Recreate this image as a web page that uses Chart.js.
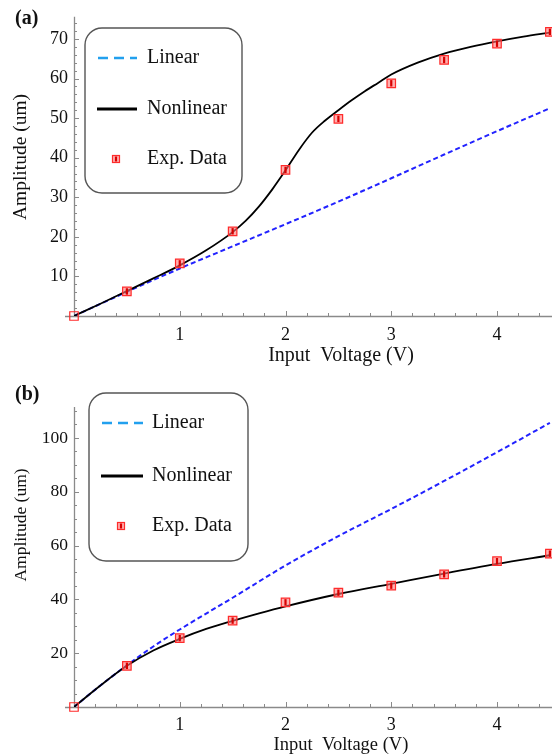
<!DOCTYPE html>
<html><head><meta charset="utf-8">
<script src="https://cdn.jsdelivr.net/npm/chart.js@4.4.1/dist/chart.umd.min.js"></script>
<style>
html,body{margin:0;padding:0;background:#fff;}
#wrap{position:relative;width:552px;height:755px;overflow:hidden;}
canvas{position:absolute;left:0;}
</style></head><body>
<div id="wrap">
<canvas id="ca" width="552" height="370" style="top:0"></canvas>
<canvas id="cb" width="552" height="385" style="top:370px"></canvas>
</div>
<script>
// ---------- data ----------
const expVolts = [0, 0.5, 1, 1.5, 2, 2.5, 3, 3.5, 4, 4.5];
const expAmpA = [0, 6.2, 13.3, 21.4, 36.9, 49.8, 58.8, 64.7, 68.8, 71.8];
const expAmpB = [0, 15.3, 25.6, 32.1, 38.9, 42.5, 45.1, 49.3, 54.2, 57.0];

const curveVoltsA = [0, 0.25, 0.5, 0.75, 1, 1.25, 1.5, 1.625, 1.75, 1.875, 2, 2.125, 2.25, 2.375, 2.5, 2.625, 2.75, 2.875, 3, 3.25, 3.5, 3.75, 4, 4.25, 4.5];
const nonlinearA = [0, 3.1, 6.3, 9.5, 12.8, 16.6, 21.2, 24.1, 27.7, 32.0, 36.8, 41.9, 46.3, 49.4, 52.0, 54.5, 56.8, 58.9, 61.0, 64.0, 66.3, 68.0, 69.4, 70.6, 71.6];
const linearVoltsA = [0, 0.5, 1, 1.5, 2, 2.5, 3, 3.5, 4, 4.5];
const linearA = [0, 6.1, 12.0, 17.6, 23.2, 28.9, 34.8, 40.8, 46.7, 52.5];

const curveVoltsB = [0, 0.25, 0.5, 0.75, 1, 1.25, 1.5, 1.75, 2, 2.5, 3, 3.5, 4, 4.5];
const nonlinearB = [0, 8.0, 15.3, 21.0, 25.3, 29.0, 32.0, 34.8, 37.4, 42.0, 45.8, 49.6, 53.2, 56.4];
const linearVoltsB = [0, 0.25, 0.5, 0.75, 1, 1.5, 2, 2.5, 3, 3.5, 4, 4.5];
const linearB = [0, 8.0, 15.5, 22.5, 28.8, 40.6, 52.6, 63.5, 73.6, 84.0, 94.7, 105.6];

const xTickLabels = [1, 2, 3, 4];
const yTicksA = [10, 20, 30, 40, 50, 60, 70];
const yTicksB = [20, 40, 60, 80, 100];
const seriesNames = ['Linear', 'Nonlinear', 'Exp. Data'];
const panelNames = ['(a)', '(b)'];
const xTitle = 'Input  Voltage (V)';
const yTitle = 'Amplitude (um)';

// ---------- helpers ----------
const pts = (xs, ys) => xs.map((v, i) => ({x: v, y: ys[i]}));
const SERIF = '"Liberation Serif", "Times New Roman", serif';

const paperAxes = {
  id: 'paperAxes',
  beforeDatasetsDraw(chart, args, o) {
    const {ctx, chartArea: a, scales: {x, y}} = chart;
    ctx.save();
    ctx.strokeStyle = '#8a8a8a';
    ctx.lineWidth = 1.3;
    ctx.beginPath();
    ctx.moveTo(a.left - 9, a.bottom + 0.5); ctx.lineTo(a.right, a.bottom + 0.5);
    ctx.moveTo(a.left + 0.5, a.bottom + 0.5); ctx.lineTo(a.left + 0.5, a.top);
    ctx.stroke();
    ctx.lineWidth = 1;
    ctx.beginPath();
    for (let i = 1; i * o.xMinor < x.max; i++) {
      const v = i * o.xMinor;
      const major = Math.abs(v - Math.round(v)) < 1e-6;
      const px = Math.round(x.getPixelForValue(v)) + 0.5;
      ctx.moveTo(px, a.bottom); ctx.lineTo(px, a.bottom - (major ? 5 : 3));
    }
    for (let i = 1; i * o.yMinor < y.max; i++) {
      const v = i * o.yMinor;
      const major = Math.abs(v / o.yMajor - Math.round(v / o.yMajor)) < 1e-6;
      const py = Math.round(y.getPixelForValue(v)) + 0.5;
      ctx.moveTo(a.left, py); ctx.lineTo(a.left + (major ? 5 : 3), py);
    }
    ctx.stroke();
    // axis titles
    ctx.fillStyle = '#111';
    ctx.textAlign = 'center';
    ctx.textBaseline = 'middle';
    ctx.font = o.xTitleSize + 'px ' + SERIF;
    ctx.fillText(xTitle, o.xTitleXY[0], o.xTitleXY[1]);
    ctx.translate(o.yTitleXY[0], o.yTitleXY[1]);
    ctx.rotate(-Math.PI / 2);
    ctx.font = o.yTitleSize + 'px ' + SERIF;
    ctx.fillText(yTitle, 0, 0);
    ctx.restore();
  }
};

function drawMarker(ctx, cx, cy, s) {
  ctx.fillStyle = 'rgba(255,120,120,0.6)';
  ctx.strokeStyle = '#ff2b2b';
  ctx.lineWidth = 1.2;
  ctx.fillRect(cx - s / 2, cy - s / 2, s, s);
  ctx.strokeRect(cx - s / 2, cy - s / 2, s, s);
  ctx.strokeStyle = '#d80000';
  ctx.lineWidth = 2.2;
  ctx.beginPath(); ctx.moveTo(cx, cy - s / 2 + 1); ctx.lineTo(cx, cy + s / 2 - 1); ctx.stroke();
}

const boxLegend = {
  id: 'boxLegend',
  afterDraw(chart, args, o) {
    const ctx = chart.ctx;
    const [bx, by, bw, bh] = o.box;
    ctx.save();
    ctx.fillStyle = '#fff';
    ctx.strokeStyle = '#555';
    ctx.lineWidth = 1.4;
    ctx.beginPath(); ctx.roundRect(bx, by, bw, bh, 17); ctx.fill(); ctx.stroke();
    ctx.strokeStyle = '#22a0ee'; ctx.lineWidth = 2.6; ctx.setLineDash([10, 6]);
    ctx.beginPath(); ctx.moveTo(o.lineX[0], o.rows[0]); ctx.lineTo(o.lineX[1], o.rows[0]); ctx.stroke();
    ctx.setLineDash([]);
    ctx.strokeStyle = '#000'; ctx.lineWidth = 3;
    ctx.beginPath(); ctx.moveTo(o.lineX[0] - 1, o.rows[1]); ctx.lineTo(o.lineX[1], o.rows[1]); ctx.stroke();
    drawMarker(ctx, o.markX, o.rows[2], 7);
    ctx.fillStyle = '#111';
    ctx.font = '20px ' + SERIF;
    ctx.textBaseline = 'middle';
    ctx.textAlign = 'left';
    seriesNames.forEach((n, i) => ctx.fillText(n, o.textX, o.rows[i]));
    ctx.font = 'bold 20px ' + SERIF;
    ctx.fillText(o.panel, o.panelXY[0], o.panelXY[1]);
    ctx.restore();
  }
};

function makeChart(id, cfg) {
  const datasets = [
    { label: 'err', data: pts(expVolts, cfg.exp), showLine: false, pointStyle: 'line', rotation: 90,
      pointRadius: c => c.dataIndex === 0 ? 0 : 3.2, borderColor: '#d80000', borderWidth: 2.2, clip: false },
    { label: seriesNames[2], data: pts(expVolts, cfg.exp), showLine: false, pointStyle: 'rect', pointRadius: 6,
      backgroundColor: c => c.dataIndex === 0 ? 'rgba(255,255,255,0)' : 'rgba(255,120,120,0.6)',
      borderColor: '#ff2b2b', borderWidth: 1.2, clip: false },
    { label: seriesNames[1], data: pts(cfg.curveX, cfg.nonlin), borderColor: '#000', borderWidth: 1.8,
      pointRadius: 0, cubicInterpolationMode: 'monotone', fill: false },
    { label: seriesNames[0], data: pts(cfg.linX, cfg.lin), borderColor: '#2222ff', borderWidth: 2,
      borderDash: [5, 3], pointRadius: 0, cubicInterpolationMode: 'monotone', fill: false }
  ];
  return new Chart(document.getElementById(id), {
    type: 'line',
    data: { datasets },
    plugins: [paperAxes, boxLegend],
    options: {
      responsive: false, animation: false, devicePixelRatio: 1,
      layout: { autoPadding: false, padding: { top: cfg.padTop, right: 0, left: 0, bottom: 0 } },
      plugins: {
        legend: { display: false }, tooltip: { enabled: false },
        paperAxes: cfg.axes,
        boxLegend: cfg.legend
      },
      scales: {
        x: {
          type: 'linear', min: 0, max: 4.52,
          grid: { display: false, drawTicks: false }, border: { display: false },
          afterBuildTicks: s => { s.ticks = xTickLabels.map(v => ({ value: v })); },
          afterFit: s => { s.height = cfg.xAxisH; },
          ticks: { font: { family: SERIF, size: 18 }, color: '#111', padding: cfg.xTickPad, maxRotation: 0 },
          title: { display: false }
        },
        y: {
          type: 'linear', min: 0, max: cfg.yMax,
          grid: { display: false, drawTicks: false }, border: { display: false },
          afterBuildTicks: s => { s.ticks = cfg.yTicks.map(v => ({ value: v })); },
          afterFit: s => { s.width = 74; },
          ticks: { font: { family: SERIF, size: cfg.yTickSize }, color: '#111', padding: 6 },
          title: { display: false }
        }
      }
    }
  });
}

makeChart('ca', {
  exp: expAmpA, curveX: curveVoltsA, nonlin: nonlinearA, linX: linearVoltsA, lin: linearA,
  yMax: 75.6, yTicks: yTicksA, yTickSize: 18, padTop: 15, xAxisH: 54, xTickPad: 8,
  axes: { xMinor: 0.2, yMinor: 2, yMajor: 10, xTitleXY: [341, 356], xTitleSize: 20, yTitleXY: [21, 157], yTitleSize: 19.5 },
  legend: { box: [85, 28, 157, 165], rows: [58, 109, 159], lineX: [98, 137], textX: 147, markX: 116,
            panel: panelNames[0], panelXY: [15, 19] }
});
makeChart('cb', {
  exp: expAmpB, curveX: curveVoltsB, nonlin: nonlinearB, linX: linearVoltsB, lin: linearB,
  yMax: 111.5, yTicks: yTicksB, yTickSize: 17.5, padTop: 37, xAxisH: 48, xTickPad: 7,
  axes: { xMinor: 0.2, yMinor: 5, yMajor: 20, xTitleXY: [341, 375], xTitleSize: 18.5, yTitleXY: [21, 155], yTitleSize: 17.5 },
  legend: { box: [89, 23, 159, 168], rows: [53, 106, 156], lineX: [102, 143], textX: 152, markX: 121,
            panel: panelNames[1], panelXY: [15, 25] }
});
</script>
</body></html>
